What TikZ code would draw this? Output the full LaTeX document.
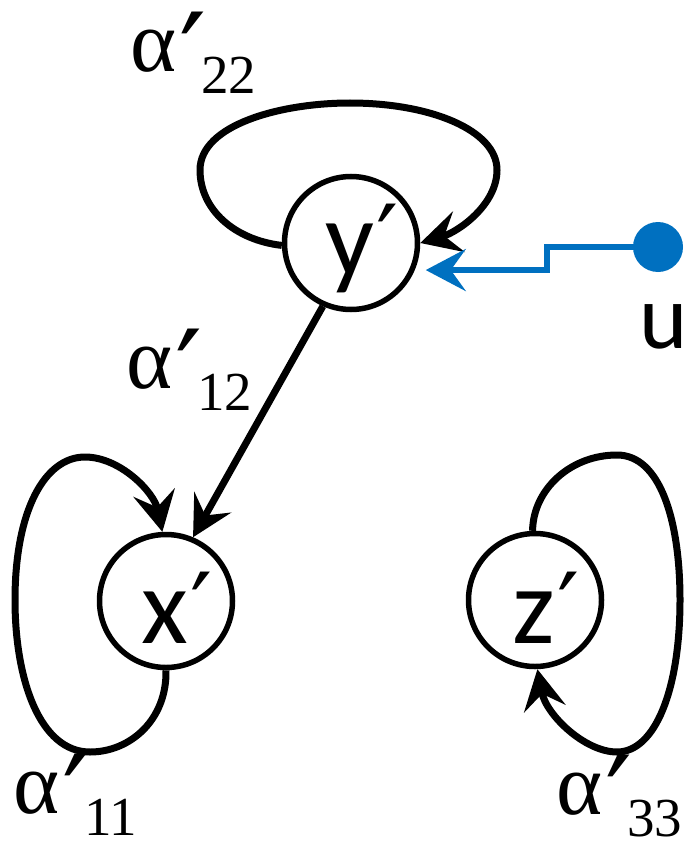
\documentclass[tikz,border=0pt]{standalone}
\usepackage{fontspec}
\setmainfont{Carlito}
\newfontfamily\serifa{Liberation Serif}
\newfontfamily\primefont{DejaVu Sans}
\usetikzlibrary{arrows.meta}
\definecolor{ublue}{RGB}{0,112,192}
\newcommand\alab[1]{{\serifa\fontsize{88}{90}\selectfont α\kern3pt\rlap{\raisebox{-28pt}{\primefont\fontsize{120}{120}\selectfont ′}}\kern 22pt\raisebox{-22pt}{\fontsize{55}{60}\selectfont #1}}}
\newcommand\vlab[1]{{\fontsize{108}{110}\selectfont #1\kern2pt\rlap{\raisebox{0pt}{\primefont\fontsize{98}{100}\selectfont ′}}}}
\begin{document}
\begin{tikzpicture}[x=1pt,y=-1pt,
  statebox/.style={circle,draw,line width=5.5pt,minimum size=133pt,inner sep=0pt,text depth=0pt},
  tip/.style={-{Stealth[length=40pt,width=42pt,inset=15pt]}},
  edgeline/.style={line width=7pt,tip},
  lab/.style={anchor=base west,inner sep=0pt}]
\useasboundingbox (0,0) rectangle (687,848);
\node[statebox,text height=64pt] (ny) at (351,243) {\vlab{y}};
\node[statebox,text height=84pt] (nx) at (166,601) {\vlab{x}};
\node[statebox,text height=86pt] (nz) at (535,600) {\vlab{z}};
\node[circle,fill=ublue,minimum size=50pt,inner sep=0pt] (u) at (658,247) {};
\node[anchor=base,inner sep=0pt,font=\fontsize{92}{94}\selectfont] (ulab) at (664,348) {u};
% self loop y'
\draw[edgeline] (ny.182) .. controls (235,240) and (200,210) .. (200,170)
  .. controls (200,125) and (280,103) .. (350,103)
  .. controls (430,103) and (497,130) .. (497,170)
  .. controls (497,205) and (458,232) .. (ny.0);
% y' -> x'
\draw[edgeline] (ny.246) -- (nx.67);
% self loop x'
\draw[edgeline] (nx.270) .. controls (167,720) and (130,752) .. (90,752)
  .. controls (40,752) and (15,680) .. (15,600)
  .. controls (15,510) and (45,457) .. (85,457)
  .. controls (120,457) and (154,492) .. (nx.93);
% self loop z'
\draw[edgeline] (nz.92) .. controls (533,490) and (570,455) .. (617,455)
  .. controls (660,455) and (680,520) .. (680,600)
  .. controls (680,690) and (655,752) .. (617,752)
  .. controls (585,752) and (546,715) .. (nz.272);
% input u
\draw[ublue,line width=5.5pt,tip,shorten >=11pt] (u.center) -- (547,247) |- (ny.-23);
% labels
\node[lab] (a22) at (130,72) {\alab{22}};
\node[lab] (a12) at (126,388) {\alab{12}};
\node[lab] (a11) at (13,813) {\alab{11}};
\node[lab] (a33) at (556,814) {\alab{33}};
\end{tikzpicture}
\end{document}
